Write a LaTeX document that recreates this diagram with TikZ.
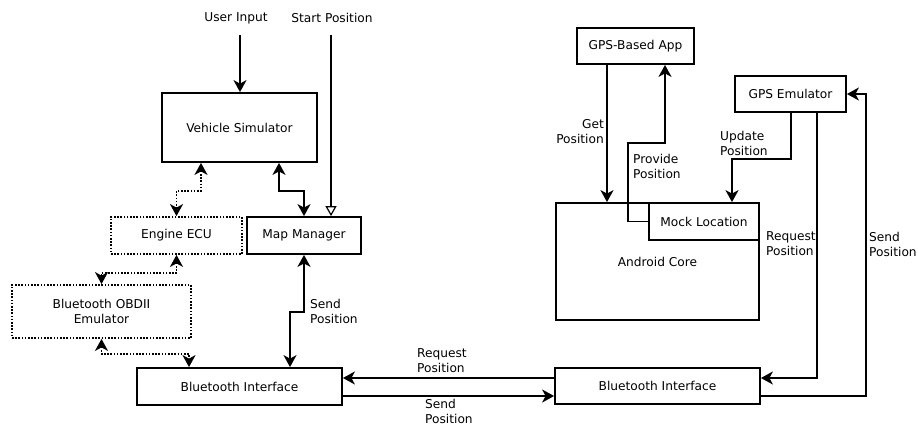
\documentclass[tikz,border=0pt]{standalone}
\usepackage{fontspec}
\setmainfont{DejaVu Sans}
\usetikzlibrary{arrows.meta}
\begin{document}
\begin{tikzpicture}[x=1pt,y=-1pt,
  font=\fontsize{12.2}{15}\selectfont,
  box/.style n args={2}{draw,line width=1.8pt,minimum width=#1,minimum height=#2,inner sep=0pt,align=center,fill=white},
  dotbox/.style={dash pattern=on 1.6pt off 1.6pt},
  lbl/.style={inner sep=0pt,align=left},
  conn/.style={line width=1.8pt},
  tip/.tip={Stealth[length=12pt,width=13pt,inset=3.5pt]},
  arr/.style={conn,-tip},
  barr/.style={conn,tip-tip},
  darr/.style={conn,tip-tip,dash pattern=on 1.6pt off 1.6pt},
  openarr/.style={conn,-{Triangle[open,length=10pt,width=11pt,line width=1.2pt]}}
]
\useasboundingbox (0,0) rectangle (918,426);

% boxes
\node[box={155pt}{69pt}] (vs) at (239.5,127.5) {Vehicle Simulator};
\node[box={131pt}{37pt},dotbox] (ecu) at (176.5,235.5) {Engine ECU};
\node[box={114pt}{37pt}] (mm) at (304,235.5) {Map Manager};
\node[box={179pt}{53pt},dotbox] (obd) at (101.5,311.5) {Bluetooth OBDII\\Emulator};
\node[box={205pt}{37pt}] (btl) at (239.5,386.5) {Bluetooth Interface};
\node[box={205pt}{36pt}] (btr) at (657.5,386) {Bluetooth Interface};
\node[box={117pt}{36pt}] (app) at (635.5,46) {GPS-Based App};
\node[box={111pt}{36pt}] (gpse) at (790.5,94) {GPS Emulator};
\node[box={203pt}{117pt}] (core) at (657.5,261.5) {Android Core};
\node[box={110pt}{37pt}] (mock) at (704,221.5) {Mock Location};

% input labels
\node[lbl] (ui) at (236,18) {User Input};
\node[lbl] (sp) at (332,18) {Start Position};
\coordinate (uiA) at (240,35);
\coordinate (spA) at (331,35);
\draw[arr] (uiA) -- (uiA |- vs.north);
\draw[openarr] (spA) -- (spA |- mm.north);

% left connectors
\draw[darr] ([xshift=-38.5pt]vs.south) -- ++(0,28) -| (ecu.north);
\draw[barr] ([xshift=39.5pt]vs.south) -- ++(0,28) -| (mm.north);
\draw[darr] (ecu.south) -- ++(0,18) -| (obd.north);
\draw[darr] (obd.south) -- ++(0,15) -| ([xshift=-50.5pt]btl.north);
\draw[barr] (mm.south) -- ++(0,57) -| ([xshift=50.5pt]btl.north);
\node[lbl,anchor=west] (l1) at (310,311) {Send\\Position};

% between bluetooth interfaces
\coordinate (r1) at ([yshift=8pt]btr.west);
\draw[arr] (r1) -- (r1 -| btl.east);
\coordinate (s1) at ([yshift=-9.5pt]btl.east);
\draw[arr] (s1) -- (s1 -| btr.west);
\node[lbl,anchor=west] (l2) at (417,361) {Request\\Position};
\node[lbl,anchor=west] (l3) at (425,411) {Send\\Position};

% right side
\coordinate (g1) at ([xshift=-28.5pt]app.south);
\draw[arr] (g1) -- (g1 |- core.north);
\node[lbl,anchor=east,align=right] (l4) at (604,132) {Get\\Position};

\draw[arr] (mock.west) -- ++(-20,0) -- ++(0,-78.5) -| ([xshift=29.5pt]app.south);
\node[lbl,anchor=west] (l5) at (633,166) {Provide\\Position};

\draw[arr] ([xshift=0.5pt]gpse.south) -- ++(0,46) -| ([xshift=28pt]mock.north);
\node[lbl,anchor=west] (l6) at (720,143) {Update\\Position};

\draw[arr] ([xshift=26.5pt]gpse.south) |- ([yshift=8pt]btr.east);
\node[lbl,anchor=west] (l7) at (766,244) {Request\\Position};

\draw[arr] ([yshift=-10pt]btr.east) -- ++(105,0) |- (gpse.east);
\node[lbl,anchor=west] (l8) at (869,244) {Send\\Position};
\end{tikzpicture}
\end{document}
